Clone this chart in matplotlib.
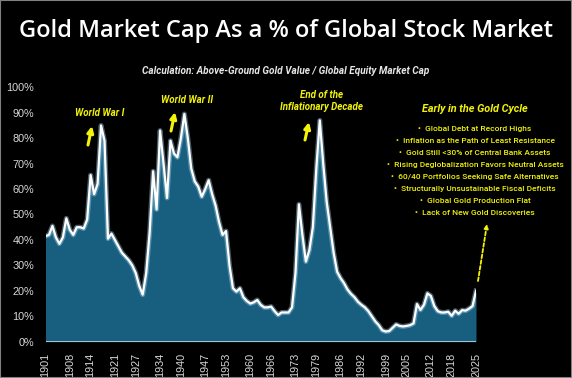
import matplotlib.pyplot as plt
import matplotlib.patheffects as pe
from matplotlib.ticker import PercentFormatter
from matplotlib.patches import Rectangle, FancyArrowPatch

# gold market cap as % of global equity market cap, one value per year
years = list(range(1901, 2026))
gold_pct = [
    41.5, 42, 45.5, 41, 38.5, 41, 48.5, 44, 42, 45,          # 1901-1910
    45, 44.5, 48, 65.5, 58, 62, 85, 79, 40.5, 42.5,          # 1911-1920
    40, 37.5, 35, 33.5, 32, 30, 27, 22, 18.5, 27,            # 1921-1930
    43, 67, 52, 83, 70, 56.5, 79, 74, 72.5, 80,              # 1931-1940
    89.5, 80, 68, 63, 61, 57, 60, 63.5, 58, 53.5,            # 1941-1950
    47, 42, 43.5, 30, 21, 19.7, 21, 17.5, 16, 15,            # 1951-1960
    15.5, 16.4, 14.5, 13.5, 13.5, 13.8, 12, 10.5, 11.5, 11.5,  # 1961-1970
    11.5, 13.5, 27, 54, 42, 31.5, 36, 45, 68, 87,            # 1971-1980
    70, 55, 45, 35, 27.5, 25, 23, 20.5, 18.8, 17.5,          # 1981-1990
    15.7, 14.5, 13.5, 12, 10, 8, 6.5, 4.5, 4, 4.2,           # 1991-2000
    5.5, 6.8, 6.2, 6, 6.2, 6.5, 7.2, 14.8, 12.5, 14.5,       # 2001-2010
    19, 18, 14, 12, 11.5, 11.5, 11.8, 10.2, 12.2, 11,        # 2011-2020
    12.4, 12.2, 13, 14, 20,                                  # 2021-2025
]
tick_years = [1901, 1908, 1914, 1921, 1927, 1934, 1940, 1947, 1953, 1960,
              1966, 1973, 1979, 1986, 1992, 1999, 2005, 2012, 2018, 2025]

drivers = [
    "Global Debt at Record Highs",
    "Inflation as the Path of Least Resistance",
    "Gold Still <30% of Central Bank Assets",
    "Rising Deglobalization Favors Neutral Assets",
    "60/40 Portfolios Seeking Safe Alternatives",
    "Structurally Unsustainable Fiscal Deficits",
    "Global Gold Production Flat",
    "Lack of New Gold Discoveries",
]

W, H = 572, 378
fig = plt.figure(figsize=(W / 100, H / 100), dpi=100, facecolor="black")
ax = fig.add_axes([45.5 / W, (H - 341.7) / H, (476 - 45.5) / W, (341.7 - 87.3) / H])
ax.set_facecolor("black")

ax.fill_between(years, gold_pct, 0, color="#175e7f", lw=0)
ax.plot(years, gold_pct, color="white", lw=1.6, solid_joinstyle="round",
        path_effects=[pe.Stroke(linewidth=3.6, foreground="#9ccbe6", alpha=0.45), pe.Normal()])
ax.axhline(0, color="#a9c2d2", lw=2.2)

ax.set_xlim(1901, 2025)
ax.set_ylim(0, 100)
ax.set_yticks(range(0, 101, 10))
ax.yaxis.set_major_formatter(PercentFormatter(decimals=0))
ax.set_xticks(tick_years)
ax.set_xticklabels([str(y) for y in tick_years], rotation=90)
ax.tick_params(axis="both", length=0, colors="#d8d8d8", labelsize=7.8)
ax.tick_params(axis="x", pad=8)
ax.tick_params(axis="y", pad=8)
for lbl in ax.get_xticklabels() + ax.get_yticklabels():
    lbl.set_family("Liberation Sans")
for s in ax.spines.values():
    s.set_visible(False)

# titles
fig.text(0.5, 1 - 31 / H, "Gold Market Cap As a % of Global Stock Market", color="white",
         fontsize=17, family="Open Sans", weight="semibold", ha="center", va="center")
fig.text(0.5, 1 - 71 / H, "Calculation: Above-Ground Gold Value / Global Equity Market Cap",
         color="#e6e6e6", fontsize=7.2, family="Roboto", weight="bold", style="italic",
         ha="center", va="center")

yel = "#f2f20a"
note = dict(color=yel, family="Roboto", weight="bold", style="italic", ha="center", va="center")


def px(x, y):
    return (x / W, 1 - y / H)


def arrow(x0, y0, x1, y1):
    fig.patches.append(FancyArrowPatch(
        px(x0, y0), px(x1, y1), transform=fig.transFigure, arrowstyle="-|>",
        mutation_scale=9, color=yel, lw=2.2, shrinkA=0, shrinkB=0))


fig.text(*px(100, 113), "World War I", fontsize=7, **note)
arrow(88, 145, 92, 126)
fig.text(*px(187, 100), "World War II", fontsize=7, **note)
arrow(171, 131, 175, 112)
fig.text(*px(322, 95), "End of the", fontsize=7, **note)
fig.text(*px(322, 107.5), "Inflationary Decade", fontsize=7, **note)
arrow(305, 140, 309, 122)

fig.text(*px(475, 109), "Early in the Gold Cycle", fontsize=7.8, **note)
for i, d in enumerate(drivers):
    fig.text(*px(475, 128.5 + i * 12.1), "\u2022  " + d, color=yel, fontsize=6.0,
             family="Roboto", weight="medium", ha="center", va="center")

fig.patches.append(FancyArrowPatch(
    px(478, 281), px(487, 224), transform=fig.transFigure, arrowstyle="-|>",
    mutation_scale=6, color=yel, lw=1.3, linestyle=(0, (2, 1.2)), shrinkA=0, shrinkB=0))

fig.patches.append(Rectangle((0, 0), 1, 1, transform=fig.transFigure, fill=False,
                             edgecolor="#808080", lw=1.5))

fig.savefig("out.png", dpi=100, facecolor="black")
